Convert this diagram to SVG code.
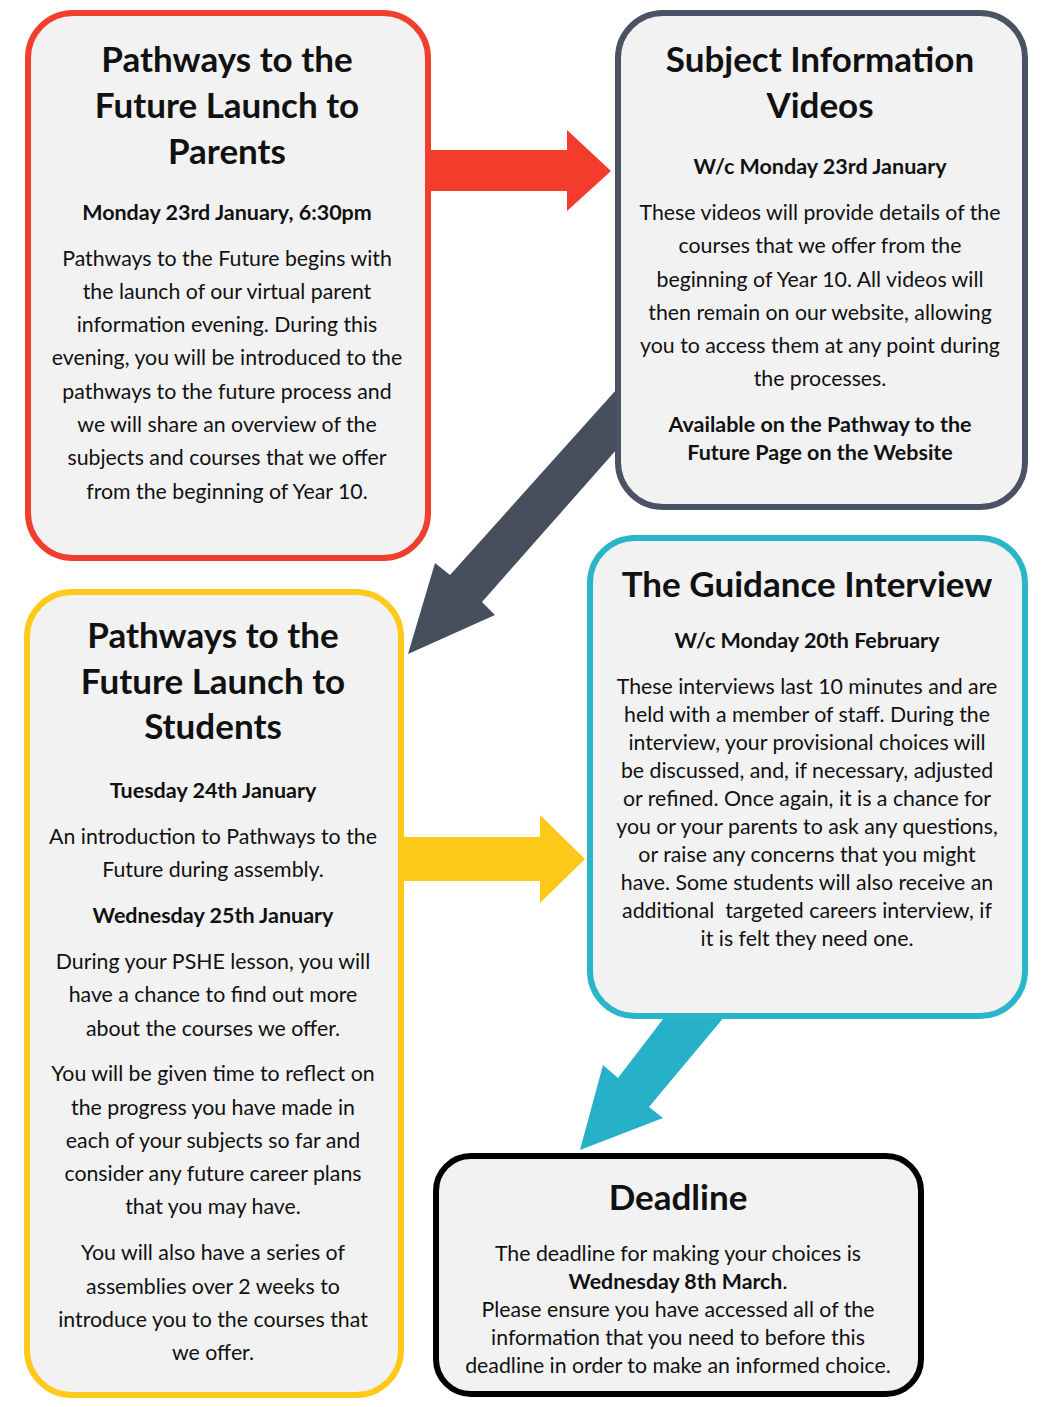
<svg xmlns="http://www.w3.org/2000/svg" width="1050" height="1407" viewBox="0 0 1050 1407">
<style>
text{font-family:Lato,"Liberation Sans",sans-serif;fill:#111;text-anchor:middle}
.t{font-size:35px;font-weight:bold}
.h{font-size:21.5px;font-weight:bold}
.b{font-size:21.3px}
.box{fill:#f2f2f2;stroke-width:6}
</style>
<rect width="1050" height="1407" fill="#fff"/>
<g id="connectors">
<polygon id="arrow-red" points="420,150 567,150 567,130 611,171 567,211 567,191 420,191" fill="#F33C2C"/>
<polygon id="arrow-gray" points="625,380 450,575 435,563 408,654 495,615 482,602 625,440" fill="#474F5D"/>
<polygon id="arrow-yellow" points="395,837 540,837 540,815 585,859 540,903 540,881 395,881" fill="#FDC817"/>
<polygon id="arrow-teal" points="670,1010 618,1078 603,1065 580,1150 663,1118 649,1107 730,1010" fill="#27B1C9"/>
</g>
<g id="node-parents">
<rect class="box" x="28" y="13" width="400" height="545" rx="45" stroke="#F03E2F"/>
<text class="t" x="227" y="72">Pathways to the</text>
<text class="t" x="227" y="118">Future Launch to</text>
<text class="t" x="227" y="164">Parents</text>
<text class="h" x="227" y="220">Monday 23rd January, 6:30pm</text>
<text class="b" x="227" y="266">Pathways to the Future begins with</text>
<text class="b" x="227" y="299">the launch of our virtual parent</text>
<text class="b" x="227" y="332">information evening. During this</text>
<text class="b" x="227" y="365">evening, you will be introduced to the</text>
<text class="b" x="227" y="399">pathways to the future process and</text>
<text class="b" x="227" y="432">we will share an overview of the</text>
<text class="b" x="227" y="465">subjects and courses that we offer</text>
<text class="b" x="227" y="499">from the beginning of Year 10.</text>
</g>
<g id="node-videos">
<rect class="box" x="618" y="13" width="407" height="494" rx="45" stroke="#4A5263"/>
<text class="t" x="820" y="72">Subject Information</text>
<text class="t" x="820" y="118">Videos</text>
<text class="h" x="820" y="174">W/c Monday 23rd January</text>
<text class="b" x="820" y="220">These videos will provide details of the</text>
<text class="b" x="820" y="253">courses that we offer from the</text>
<text class="b" x="820" y="287">beginning of Year 10. All videos will</text>
<text class="b" x="820" y="320">then remain on our website, allowing</text>
<text class="b" x="820" y="353">you to access them at any point during</text>
<text class="b" x="820" y="386">the processes.</text>
<text class="h" x="820" y="432">Available on the Pathway to the</text>
<text class="h" x="820" y="460">Future Page on the Website</text>
</g>
<g id="node-students">
<rect class="box" x="27" y="592" width="374" height="803" rx="45" stroke="#FFC91A"/>
<text class="t" x="213" y="648">Pathways to the</text>
<text class="t" x="213" y="694">Future Launch to</text>
<text class="t" x="213" y="739">Students</text>
<text class="h" x="213" y="798">Tuesday 24th January</text>
<text class="b" x="213" y="844">An introduction to Pathways to the</text>
<text class="b" x="213" y="877">Future during assembly.</text>
<text class="h" x="213" y="923">Wednesday 25th January</text>
<text class="b" x="213" y="969">During your PSHE lesson, you will</text>
<text class="b" x="213" y="1002">have a chance to find out more</text>
<text class="b" x="213" y="1036">about the courses we offer.</text>
<text class="b" x="213" y="1081">You will be given time to reflect on</text>
<text class="b" x="213" y="1115">the progress you have made in</text>
<text class="b" x="213" y="1148">each of your subjects so far and</text>
<text class="b" x="213" y="1181">consider any future career plans</text>
<text class="b" x="213" y="1214">that you may have.</text>
<text class="b" x="213" y="1260">You will also have a series of</text>
<text class="b" x="213" y="1294">assemblies over 2 weeks to</text>
<text class="b" x="213" y="1327">introduce you to the courses that</text>
<text class="b" x="213" y="1360">we offer.</text>
</g>
<g id="node-interview">
<rect class="box" x="590" y="538" width="435" height="478" rx="45" stroke="#2AB5C9"/>
<text class="t" x="807" y="597">The Guidance Interview</text>
<text class="h" x="807" y="648">W/c Monday 20th February</text>
<text class="b" x="807" y="694">These interviews last 10 minutes and are</text>
<text class="b" x="807" y="722">held with a member of staff. During the</text>
<text class="b" x="807" y="750">interview, your provisional choices will</text>
<text class="b" x="807" y="778">be discussed, and, if necessary, adjusted</text>
<text class="b" x="807" y="806">or refined. Once again, it is a chance for</text>
<text class="b" x="807" y="834">you or your parents to ask any questions,</text>
<text class="b" x="807" y="862">or raise any concerns that you might</text>
<text class="b" x="807" y="890">have. Some students will also receive an</text>
<text class="b" x="807" y="918" xml:space="preserve">additional  targeted careers interview, if</text>
<text class="b" x="807" y="946">it is felt they need one.</text>
</g>
<g id="node-deadline">
<rect class="box" x="436" y="1156" width="485" height="238" rx="35" stroke="#000"/>
<text class="t" x="678" y="1210">Deadline</text>
<text class="b" x="678" y="1261">The deadline for making your choices is</text>
<text class="b" x="678" y="1289"><tspan font-weight="bold">Wednesday 8th March</tspan>.</text>
<text class="b" x="678" y="1317">Please ensure you have accessed all of the</text>
<text class="b" x="678" y="1345">information that you need to before this</text>
<text class="b" x="678" y="1373">deadline in order to make an informed choice.</text>
</g>
</svg>
